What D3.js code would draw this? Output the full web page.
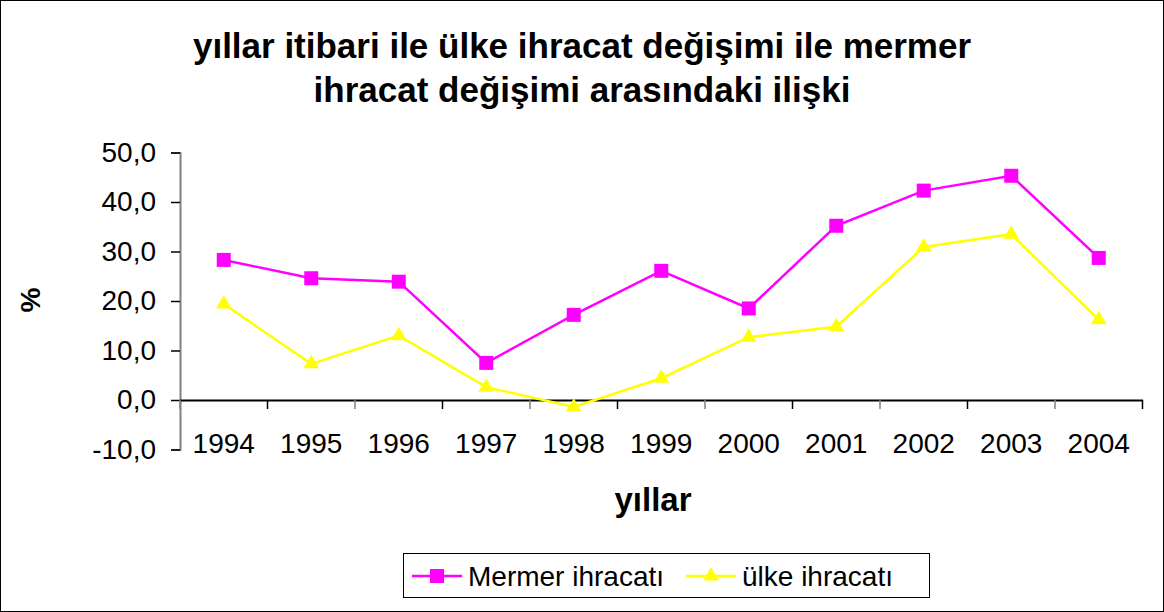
<!DOCTYPE html>
<html>
<head>
<meta charset="utf-8">
<script src="https://cdn.jsdelivr.net/npm/d3@7"></script>
<style>
  body { margin: 0; background: #fff; }
  svg { display: block; font-family: "Liberation Sans", Arial, sans-serif; }
</style>
</head>
<body>
<script>
const WIDTH = 1164;
const HEIGHT = 612;

const years = ["1994", "1995", "1996", "1997", "1998", "1999", "2000", "2001", "2002", "2003", "2004"];
const mermer = [28.3, 24.6, 23.9, 7.5, 17.2, 26.1, 18.5, 35.2, 42.3, 45.3, 28.7];
const ulke = [19.4, 7.3, 13.0, 2.6, -1.4, 4.4, 12.7, 14.8, 30.9, 33.5, 16.2];
const yTicks = [-10, 0, 10, 20, 30, 40, 50];

const titleLines = ["yıllar itibari ile ülke ihracat değişimi ile mermer", "ihracat değişimi arasındaki ilişki"];

const plotLeft = 180, plotRight = 1142.5, plotTop = 152.5, plotBottom = 449.5;
const FONT = "Liberation Sans, Arial, sans-serif";

const svg = d3.select("body").append("svg")
    .attr("width", WIDTH)
    .attr("height", HEIGHT);

// outer frame
svg.append("rect")
    .attr("x", 0.5).attr("y", 0.5)
    .attr("width", WIDTH - 1).attr("height", HEIGHT - 1)
    .attr("fill", "#fff").attr("stroke", "#000");

const xScale = d3.scaleBand().domain(years).range([plotLeft, plotRight]);
const yScale = d3.scaleLinear().domain([-10, 50]).range([plotBottom, plotTop]);

// title
svg.append("text")
    .attr("text-anchor", "middle")
    .attr("font-size", 35).attr("font-weight", "bold")
    .selectAll("tspan").data(titleLines).join("tspan")
    .attr("x", 582).attr("y", (d, i) => 58 + i * 44)
    .text(d => d);

// y axis
const yAxis = d3.axisLeft(yScale)
    .tickValues(yTicks)
    .tickSize(9)
    .tickPadding(15)
    .tickFormat(d => d3.format(".1f")(d).replace(".", ",").replace("−", "-"));

svg.append("g")
    .attr("transform", "translate(" + plotLeft + ",0)")
    .call(yAxis)
    .call(g => g.select(".domain").attr("stroke", "#808080").attr("stroke-width", 2))
    .call(g => g.selectAll(".tick line").attr("stroke", "#000").attr("stroke-width", 1.5))
    .call(g => g.selectAll(".tick text").attr("font-size", 28).attr("fill", "#000")
        .attr("font-family", FONT));

// x axis at 0
const xAxis = d3.axisBottom(xScale).tickSize(0).tickPadding(33);
const xg = svg.append("g")
    .attr("transform", "translate(0," + yScale(0) + ")")
    .call(xAxis)
    .call(g => g.select(".domain").attr("stroke", "#000").attr("stroke-width", 2))
    .call(g => g.selectAll(".tick text").attr("font-size", 28).attr("fill", "#000")
        .attr("font-family", FONT));

// category boundary ticks
xg.selectAll("line.cat").data(d3.range(years.length + 1)).join("line")
    .attr("class", "cat")
    .attr("x1", i => plotLeft + i * xScale.step())
    .attr("x2", i => plotLeft + i * xScale.step())
    .attr("y1", 0).attr("y2", 9)
    .attr("stroke", i => i % 2 === 0 ? "#808080" : "#000")
    .attr("stroke-width", 1.5);

// axis titles
svg.append("text")
    .attr("transform", "translate(40,300) rotate(-90)")
    .attr("text-anchor", "middle")
    .attr("font-size", 28).attr("font-weight", "bold")
    .text("%");

svg.append("text")
    .attr("x", 653).attr("y", 511)
    .attr("text-anchor", "middle")
    .attr("font-size", 33).attr("font-weight", "bold")
    .text("yıllar");

const cx = i => xScale(years[i]) + xScale.bandwidth() / 2;
const line = d3.line().x((d, i) => cx(i)).y(d => yScale(d));

const series = [
    { name: "Mermer ihracatı", values: mermer, color: "#ff00ff", symbol: d3.symbolSquare, size: 196 },
    { name: "ülke ihracatı", values: ulke, color: "#ffff00", symbol: d3.symbolTriangle, size: 105 }
];

series.forEach(s => {
    svg.append("path")
        .datum(s.values)
        .attr("d", line)
        .attr("fill", "none")
        .attr("stroke", s.color)
        .attr("stroke-width", 2.5);
    svg.append("g").selectAll("path").data(s.values).join("path")
        .attr("transform", (d, i) => "translate(" + cx(i) + "," + yScale(d) + ")")
        .attr("d", d3.symbol().type(s.symbol).size(s.size))
        .attr("fill", s.color);
});

// legend
const legend = svg.append("g");
legend.append("rect")
    .attr("x", 403.5).attr("y", 553.5)
    .attr("width", 526).attr("height", 44)
    .attr("fill", "#fff").attr("stroke", "#000");

const legendX = [412, 686];
series.forEach((s, i) => {
    const g = legend.append("g").attr("transform", "translate(" + legendX[i] + ",576)");
    g.append("line").attr("x1", 0).attr("x2", 50).attr("y1", 0).attr("y2", 0)
        .attr("stroke", s.color).attr("stroke-width", 2.5);
    g.append("path").attr("transform", "translate(25,0)")
        .attr("d", d3.symbol().type(s.symbol).size(s.size))
        .attr("fill", s.color);
    g.append("text").attr("x", 56).attr("y", 10)
        .attr("font-size", 28)
        .text(s.name);
});
</script>
</body>
</html>
